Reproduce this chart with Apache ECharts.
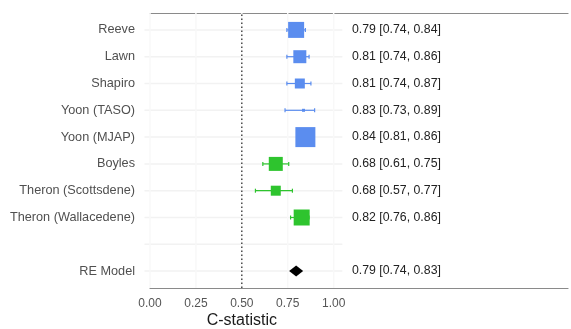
<!DOCTYPE html>
<html>
<head>
<meta charset="utf-8">
<script src="https://cdn.jsdelivr.net/npm/echarts@6/dist/echarts.min.js"></script>
<style>
  html, body { margin: 0; padding: 0; background: #fff; }
  #chart { width: 571px; height: 329px; }
</style>
</head>
<body>
<div id="chart"></div>
<script>
// Study rows, top to bottom (the empty entry is a spacer row before the pooled model)
const studies = ['Reeve', 'Lawn', 'Shapiro', 'Yoon (TASO)', 'Yoon (MJAP)', 'Boyles',
                 'Theron (Scottsdene)', 'Theron (Wallacedene)', '', 'RE Model'];
// C-statistic estimates with 95% confidence limits
const estimate = [0.79, 0.81, 0.81, 0.83, 0.84, 0.68, 0.68, 0.82, null, 0.79];
const lower    = [0.74, 0.74, 0.74, 0.73, 0.81, 0.61, 0.57, 0.76, null, 0.74];
const upper    = [0.84, 0.86, 0.87, 0.89, 0.86, 0.75, 0.77, 0.86, null, 0.83];
// Study group of each row: 0 = blue cohort, 1 = green cohort, 2 = pooled
const group    = [0, 0, 0, 0, 0, 1, 1, 1, null, 2];
const xTicks   = [0, 0.25, 0.5, 0.75, 1];
const refLine  = 0.5;

// ---- styling ----
const markerSize = [16, 13, 10, 3, 20, 14, 10, 16, 0, 0];
const groupColor = ['#5B8DEF', '#2EC42E', '#000000'];
const X_MAX = 2.276;

const chart = echarts.init(document.getElementById('chart'), null, { renderer: 'canvas' });

const ciText = studies.map((s, i) => estimate[i] == null ? '' :
  `${estimate[i].toFixed(2)} [${lower[i].toFixed(2)}, ${upper[i].toFixed(2)}]`);

const rows = studies.map((s, i) => i);
const errData = rows.filter(i => estimate[i] != null && group[i] !== 2)
  .map(i => ({ value: [lower[i], i, upper[i]], itemStyle: { color: groupColor[group[i]] } }));
const pointData = rows.filter(i => estimate[i] != null && group[i] !== 2)
  .map(i => ({ value: [estimate[i], i], symbolSize: markerSize[i],
               itemStyle: { color: groupColor[group[i]], opacity: 1 } }));
const pooledData = rows.filter(i => group[i] === 2).map(i => [estimate[i], i]);

const font = 'Liberation Sans, Arial, sans-serif';

chart.setOption({
  animation: false,
  grid: [
    { left: 150, right: 0, top: 13, bottom: 41 },
    { left: 150, right: 0, top: 16.5, bottom: 44.5 }
  ],
  xAxis: [
    { gridIndex: 0, type: 'value', min: 0, max: X_MAX, interval: 0.25, position: 'bottom',
      axisLine: { show: true, lineStyle: { color: '#8a8a8a', width: 1.2 } },
      axisTick: { show: false }, splitLine: { show: false },
      axisLabel: { margin: 10, color: '#555', fontSize: 12, fontFamily: font,
        formatter: v => xTicks.some(t => Math.abs(t - v) < 1e-9) ? v.toFixed(2) : '' } },
    { gridIndex: 0, type: 'value', min: 0, max: X_MAX, position: 'top',
      axisLine: { show: true, lineStyle: { color: '#8a8a8a', width: 1.2 } },
      axisTick: { show: false }, axisLabel: { show: false }, splitLine: { show: false } },
    { gridIndex: 1, type: 'value', min: 0, max: X_MAX, show: false }
  ],
  yAxis: [
    { gridIndex: 0, type: 'value', min: 0, max: 1, show: false },
    { gridIndex: 1, type: 'category', data: studies, inverse: true, position: 'left',
      axisLine: { show: false }, axisTick: { show: false }, splitLine: { show: false },
      axisLabel: { margin: 15, color: '#505050', fontSize: 12.7, fontFamily: font, interval: 0 } },
    { gridIndex: 1, type: 'category', data: ciText, inverse: true, position: 'right',
      offset: -219,
      axisLine: { show: false }, axisTick: { show: false }, splitLine: { show: false },
      axisLabel: { margin: 0, color: '#222', fontSize: 12.3, fontFamily: font, interval: 0,
                   align: 'left' } }
  ],
  series: [
    // faint row guides
    { type: 'custom', xAxisIndex: 2, yAxisIndex: 1, silent: true, z: 1,
      data: rows.map(i => [i]),
      renderItem: (params, api) => {
        const a = api.coord([-0.03, api.value(0)]);
        const b = api.coord([1.04, api.value(0)]);
        return { type: 'line', shape: { x1: a[0], y1: a[1], x2: b[0], y2: b[1] },
                 style: { stroke: '#f2f2f2', lineWidth: 1.5 } };
      } },
    // faint vertical guides at the tick positions
    { type: 'custom', xAxisIndex: 0, yAxisIndex: 0, silent: true, z: 1,
      data: xTicks.map(t => [t]),
      renderItem: (params, api) => {
        const a = api.coord([api.value(0), 0]);
        const b = api.coord([api.value(0), 1]);
        return { type: 'line', shape: { x1: a[0], y1: a[1], x2: b[0], y2: b[1] },
                 style: { stroke: '#f8f8f8', lineWidth: 1.5 } };
      } },
    // reference line at 0.5
    { type: 'custom', xAxisIndex: 0, yAxisIndex: 0, silent: true, z: 3,
      data: [[refLine]],
      renderItem: (params, api) => {
        const a = api.coord([api.value(0), 0]);
        const b = api.coord([api.value(0), 1]);
        return { type: 'line', shape: { x1: a[0], y1: a[1], x2: b[0], y2: b[1] },
                 style: { stroke: '#222', lineWidth: 1.2, lineDash: [1.5, 2.5] } };
      } },
    // confidence intervals with end caps
    { type: 'custom', xAxisIndex: 2, yAxisIndex: 1, z: 4, data: errData,
      renderItem: (params, api) => {
        const lo = api.coord([api.value(0), api.value(1)]);
        const hi = api.coord([api.value(2), api.value(1)]);
        const col = api.visual('color');
        const st = { stroke: col, lineWidth: 1.2 };
        const cap = 2;
        return { type: 'group', children: [
          { type: 'line', shape: { x1: lo[0], y1: lo[1], x2: hi[0], y2: hi[1] }, style: st },
          { type: 'line', shape: { x1: lo[0], y1: lo[1] - cap, x2: lo[0], y2: lo[1] + cap }, style: st },
          { type: 'line', shape: { x1: hi[0], y1: hi[1] - cap, x2: hi[0], y2: hi[1] + cap }, style: st }
        ] };
      } },
    // study estimates (square size reflects study weight)
    { type: 'scatter', xAxisIndex: 2, yAxisIndex: 1, z: 5, symbol: 'rect',
      itemStyle: { opacity: 1 }, data: pointData },
    // pooled random-effects estimate
    { type: 'scatter', xAxisIndex: 2, yAxisIndex: 1, z: 5, symbol: 'diamond',
      symbolSize: [14, 11], itemStyle: { color: groupColor[2], opacity: 1 }, data: pooledData }
  ]
});

// axis title centred under the 0.5 reference value
const titleX = chart.convertToPixel({ xAxisIndex: 0 }, refLine);
chart.setOption({
  graphic: [
    { type: 'text', x: titleX, y: 321, silent: true,
      style: { text: 'C-statistic', fill: '#1a1a1a', font: '16px ' + font,
               textAlign: 'center', textVerticalAlign: 'middle' } }
  ]
});
</script>
</body>
</html>
